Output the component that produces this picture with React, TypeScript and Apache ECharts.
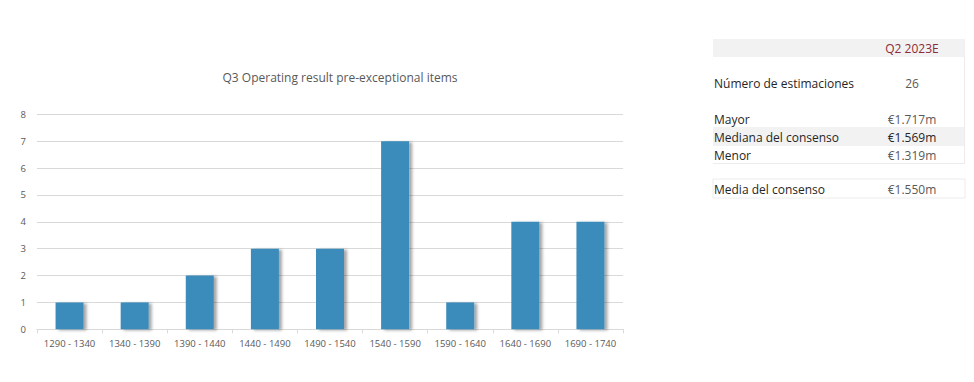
import React, { useEffect, useRef } from "react";
import * as echarts from "echarts";

const categories = ["1290 - 1340", "1340 - 1390", "1390 - 1440", "1440 - 1490", "1490 - 1540", "1540 - 1590", "1590 - 1640", "1640 - 1690", "1690 - 1740"];
const counts = [1, 1, 2, 3, 3, 7, 1, 4, 4];
const chartTitle = "Q3 Operating result pre-exceptional items";
const tableHeader = "Q2 2023E";
const tableLabels = ["Número de estimaciones", "Mayor", "Mediana del consenso", "Menor", "Media del consenso"];
const tableValues = ["26", "€1.717m", "€1.569m", "€1.319m", "€1.550m"];

export default function App() {
  const ref = useRef<HTMLDivElement>(null);
  useEffect(() => {
    const chart = echarts.init(ref.current!, null, { renderer: "svg" });
    const font = "'Open Sans', 'Noto Sans', sans-serif";
    const tl = 713, tr = 965, vx = 912;
    const rowY = [83, 119, 137, 155, 189];
    const graphic: any[] = [
      { type: "rect", shape: { x: tl, y: 39, width: tr - tl, height: 18 }, style: { fill: "#f2f2f2" } },
      { type: "text", x: vx, y: 48, style: { text: tableHeader, fill: "#8c2a3c", font: `12px ${font}`, align: "center", verticalAlign: "middle" } },
      { type: "rect", shape: { x: tl, y: 127, width: tr - tl, height: 19 }, style: { fill: "#f2f2f2" } },
      { type: "line", shape: { x1: tl, y1: 163.5, x2: tr, y2: 163.5 }, style: { stroke: "#ececec", lineWidth: 1 } },
      { type: "line", shape: { x1: tr - 0.5, y1: 57, x2: tr - 0.5, y2: 164 }, style: { stroke: "#ececec", lineWidth: 1 } },
      { type: "rect", shape: { x: tl, y: 179, width: tr - tl, height: 19 }, style: { fill: "none", stroke: "#ececec", lineWidth: 1 } },
    ];
    tableLabels.forEach((lab, i) => {
      graphic.push({ type: "text", x: tl + 1, y: rowY[i], style: { text: lab, fill: "#262626", font: `12px ${font}`, verticalAlign: "middle" } });
      graphic.push({ type: "text", x: vx, y: rowY[i], style: { text: tableValues[i], fill: i === 2 ? "#262626" : "#595959", font: `12px ${font}`, align: "center", verticalAlign: "middle" } });
    });
    chart.setOption({
      animation: false,
      title: { text: chartTitle, left: 335, top: 66, textAlign: "center", textStyle: { fontFamily: font, fontSize: 12, fontWeight: "normal", color: "#595959" } },
      grid: { left: 37, right: 351, top: 114.3, bottom: 52.7 },
      xAxis: {
        type: "category", data: categories,
        axisLine: { lineStyle: { color: "#d9d9d9" } },
        axisTick: { show: true, length: 4, lineStyle: { color: "#d9d9d9" } },
        axisLabel: { color: "#595959", fontSize: 9.5, fontFamily: font, margin: 9, interval: 0 },
      },
      yAxis: {
        type: "value", min: 0, max: 8, interval: 1,
        axisLine: { show: false }, axisTick: { show: false },
        splitLine: { lineStyle: { color: "#d9d9d9" } },
        axisLabel: { color: "#595959", fontSize: 9.5, fontFamily: font, margin: 11 },
      },
      series: [{
        type: "bar", data: counts, barWidth: 28,
        itemStyle: { color: "#3a8bbb", shadowColor: "rgba(0,0,0,0.35)", shadowBlur: 3, shadowOffsetX: 3, shadowOffsetY: 1 },
      }],
      graphic,
    });
    return () => chart.dispose();
  }, []);
  return <div ref={ref} style={{ position: "fixed", left: 0, top: 0, width: 974, height: 382, background: "#fff" }} />;
}
